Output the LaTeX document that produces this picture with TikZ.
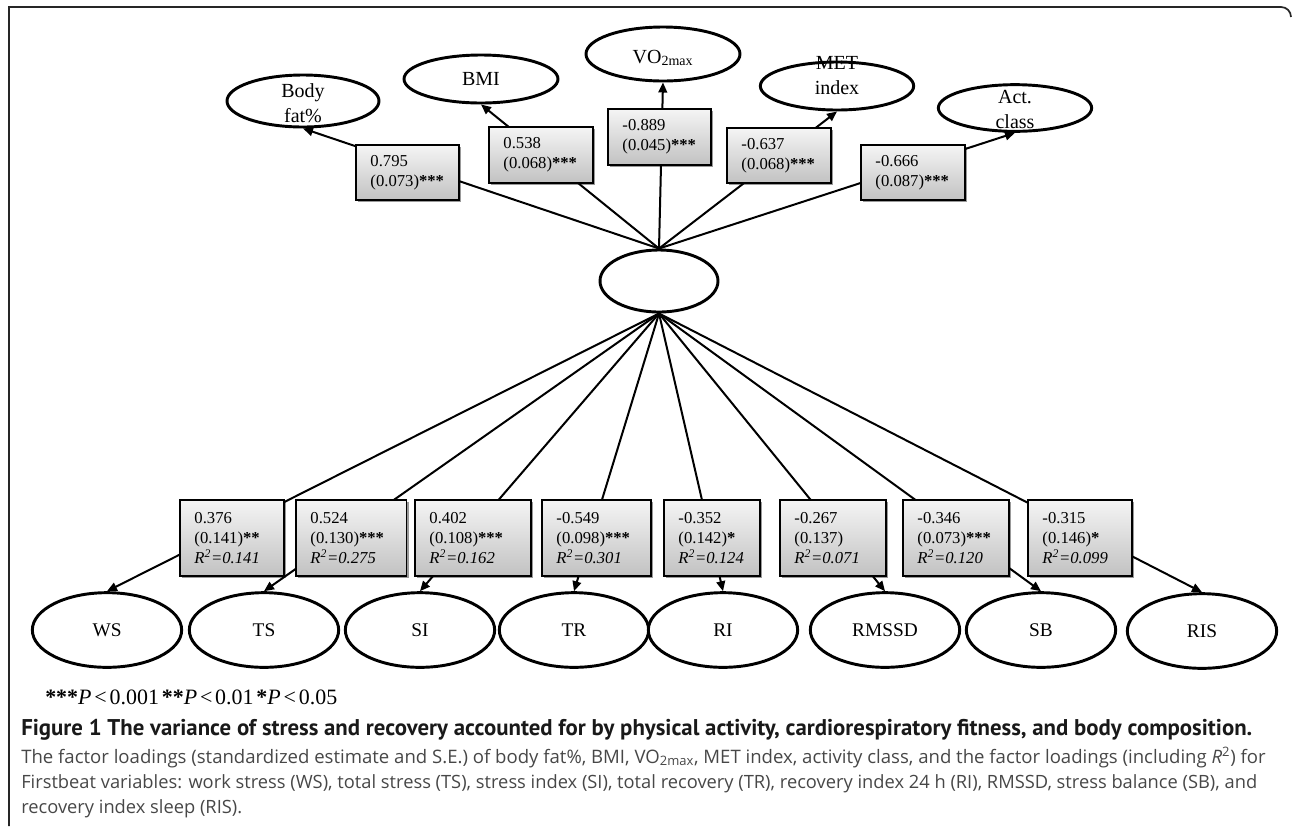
\documentclass[tikz,border=0pt]{standalone}
\usepackage{fontspec}
\setmainfont{Liberation Serif}
\newfontfamily\capfont{PT Sans}
\newfontfamily\capregfont{Open Sans}
\usetikzlibrary{arrows.meta,shapes.geometric,shadows}
\newlength\capmeas
\newcommand\measfit[4]{%
  \settowidth\capmeas{#2\fontsize{10pt}{12pt}\selectfont #4}%
  \pgfmathsetmacro#1{10*#3/\capmeas}}
\newcommand\captxtb{Figure 1 The variance of stress and recovery accounted for by physical activity, cardiorespiratory fitness, and body composition.}
\newcommand\captxtii{The factor loadings (standardized estimate and S.E.) of body fat\%, BMI, VO\textsubscript{2max}, MET index, activity class, and the factor loadings (including \textit{R}\textsuperscript{2}) for}
\newcommand\captxtiii{Firstbeat variables: work stress (WS), total stress (TS), stress index (SI), total recovery (TR), recovery index 24 h (RI), RMSSD, stress balance (SB), and}
\newcommand\sgsp{\hspace{0.13em}}
\newcommand\sigtxt{\textbf{***}\textit{P}\sgsp<\sgsp0.001\sgsp\textbf{**}\textit{P}\sgsp<\sgsp0.01\sgsp\textbf{*}\textit{P}\sgsp<\sgsp0.05}
\begin{document}
\measfit\szb{\capfont\bfseries}{923.25}{\captxtb}%
\measfit\szii{\capregfont}{933.75}{\captxtii}%
\measfit\sziii{\capregfont}{927}{\captxtiii}%
\measfit\szsig{\rmfamily}{219}{\sigtxt}%
\begin{tikzpicture}[x=0.75pt,y=-0.75pt,
  lat/.style={ellipse,draw,line width=2.2pt,fill=white,inner sep=0pt},
  lbl/.style={font=\fontsize{15}{18.5}\selectfont,align=center,inner sep=0pt},
  botvar/.style={lat,minimum width=112pt,minimum height=56pt,font=\fontsize{14.5}{17}\selectfont},
  est/.style={draw,line width=1.2pt,top color=gray!8,bottom color=gray!48,
    align=left,font=\fontsize{12.5}{15}\selectfont,inner xsep=11pt,inner ysep=0pt,
    anchor=north west,
    drop shadow={shadow xshift=1.6pt,shadow yshift=-1.6pt,opacity=0.4,fill=black}},
  conn/.style={line width=1.5pt,-{Triangle[length=7.5pt,width=6.5pt]}},
  capb/.style={anchor=base west,inner sep=0pt,text=black!90},
  capr/.style={anchor=base west,inner sep=0pt,text=black!72}
]
\useasboundingbox (0,0) rectangle (1292,826);
% frame
\draw[line width=1.3pt,black!85] (9,826) -- (9,7) -- (1281,7) to[out=0,in=90] (1291,17);

% latent factor
\node[lat,minimum width=88.5pt,minimum height=46.5pt] (c) at (659,281) {};

% top indicators
\node[lat,minimum width=114pt,minimum height=39pt,label={[lbl,yshift=-1.5pt]center:Body\\fat\%}] (bf) at (303,101) {};
\node[lat,minimum width=115.5pt,minimum height=36pt,label={[lbl]center:BMI}] (bmi) at (481,79) {};
\node[lat,minimum width=115.5pt,minimum height=40.5pt,label={[lbl,yshift=-3pt]center:VO\textsubscript{2max}}] (vo) at (663,54) {};
\node[lat,minimum width=115pt,minimum height=36pt,label={[lbl,yshift=8pt]center:MET\\index}] (met) at (837,86) {};
\node[lat,minimum width=115pt,minimum height=35pt,label={[lbl,yshift=-1pt]center:Act.\\class}] (act) at (1015,108) {};

% bottom indicators
\node[botvar] (ws) at (107,630) {WS};
\node[botvar] (ts) at (264,630) {TS};
\node[botvar] (si) at (420,630) {SI};
\node[botvar] (tr) at (574,630) {TR};
\node[botvar] (ri) at (723,630) {RI};
\node[botvar] (rmssd) at (885,630) {RMSSD};
\node[botvar] (sb) at (1041,630) {SB};
\node[botvar] (ris) at (1202,631) {RIS};

% connectors
\foreach \t in {bf,bmi,vo,met,act} \draw[conn] (c.north) -- (\t.south);
\foreach \t in {ws,ts,si,tr,ri,rmssd,sb,ris} \draw[conn] (c.south) -- (\t.north);

% top estimate boxes
\node[est,minimum width=77.5pt,minimum height=41.5pt,text width=55.5pt] (e1) at (355,144) {0.795\\(0.073)\textbf{***}};
\node[est,minimum width=78pt,minimum height=42pt,text width=56pt] (e2) at (488,126) {0.538\\(0.068)\textbf{***}};
\node[est,minimum width=77.5pt,minimum height=42pt,text width=55.5pt] (e3) at (607,108) {-0.889\\(0.045)\textbf{***}};
\node[est,minimum width=78pt,minimum height=41.5pt,text width=56pt] (e4) at (726,127) {-0.637\\(0.068)\textbf{***}};
\node[est,minimum width=78pt,minimum height=41.5pt,text width=56pt] (e5) at (860,144) {-0.666\\(0.087)\textbf{***}};

% bottom estimate boxes
\node[est,minimum width=78pt,minimum height=57pt,text width=56pt] (f1) at (179,499) {0.376\\(0.141)\textbf{**}\\\textit{R\textsuperscript{2}=0.141}};
\node[est,minimum width=83pt,minimum height=57pt,text width=61pt] (f2) at (295,499) {0.524\\(0.130)\textbf{***}\\\textit{R\textsuperscript{2}=0.275}};
\node[est,minimum width=87pt,minimum height=57pt,text width=65pt] (f3) at (414,499) {0.402\\(0.108)\textbf{***}\\\textit{R\textsuperscript{2}=0.162}};
\node[est,minimum width=82pt,minimum height=57pt,text width=60pt] (f4) at (541,499) {-0.549\\(0.098)\textbf{***}\\\textit{R\textsuperscript{2}=0.301}};
\node[est,minimum width=72pt,minimum height=57pt,text width=50pt] (f5) at (663,499) {-0.352\\(0.142)\textbf{*}\\\textit{R\textsuperscript{2}=0.124}};
\node[est,minimum width=79.5pt,minimum height=57pt,text width=57.5pt] (f6) at (779,499) {-0.267\\(0.137)\\\textit{R\textsuperscript{2}=0.071}};
\node[est,minimum width=79.5pt,minimum height=57pt,text width=57.5pt] (f7) at (902,499) {-0.346\\(0.073)\textbf{***}\\\textit{R\textsuperscript{2}=0.120}};
\node[est,minimum width=78pt,minimum height=57pt,text width=56pt] (f8) at (1027,499) {-0.315\\(0.146)\textbf{*}\\\textit{R\textsuperscript{2}=0.099}};

% significance note
\node[anchor=base west,inner sep=0pt,font=\fontsize{\szsig pt}{18pt}\selectfont] (sig) at (45,704) {\sigtxt};

% caption
\node[capb,font=\capfont\bfseries\fontsize{\szb pt}{16pt}\selectfont] (cap1) at (21,735) {\captxtb};
\node[capr,font=\capregfont\fontsize{\szii pt}{16pt}\selectfont] (cap2) at (21,763) {\captxtii};
\node[capr,font=\capregfont\fontsize{\sziii pt}{16pt}\selectfont] (cap3) at (21,788) {\captxtiii};
\node[capr,font=\capregfont\fontsize{\sziii pt}{16pt}\selectfont] (cap4) at (21,813) {recovery index sleep (RIS).};
\end{tikzpicture}
\end{document}
